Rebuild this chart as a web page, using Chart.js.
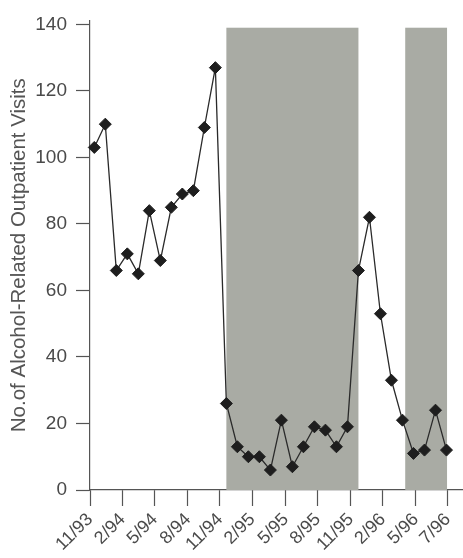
<!DOCTYPE html>
<html>
<head>
<meta charset="utf-8">
<script src="https://cdn.jsdelivr.net/npm/chart.js@4.4.1/dist/chart.umd.min.js"></script>
<style>
  html, body { margin: 0; padding: 0; background: #fff; }
  #wrap { width: 463px; height: 558px; position: relative; }
</style>
</head>
<body>
<div id="wrap"><canvas id="chart"></canvas></div>
<script>
// monthly visits, 11/93 .. 7/96 (month index 0..32)
var months = ['11/93','12/93','1/94','2/94','3/94','4/94','5/94','6/94','7/94','8/94','9/94','10/94',
              '11/94','12/94','1/95','2/95','3/95','4/95','5/95','6/95','7/95','8/95','9/95','10/95',
              '11/95','12/95','1/96','2/96','3/96','4/96','5/96','6/96','7/96'];
var visits = [103, 110, 66, 71, 65, 84, 69, 85, 89, 90, 109, 127,
              26, 13, 10, 10, 6, 21, 7, 13, 19, 18, 13, 19,
              66, 82, 53, 33, 21, 11, 12, 24, 12];

// axis ticks (position in month index units) and their labels
var tickLabels = ['11/93','2/94','5/94','8/94','11/94','2/95','5/95','8/95','11/95','2/96','5/96','7/96'];
var tickPos = [-0.39, 2.57, 5.51, 8.51, 11.42, 14.35, 17.41, 20.32, 23.31, 26.22, 29.21, 32.12];
var yTicks = [0, 20, 40, 60, 80, 100, 120, 140];

// shaded periods (month index start/end) and their height
var shadeStart = [12, 28.25];
var shadeEnd = [24, 32.05];
var shadeTop = 139;

var FONT = '"Liberation Sans", Arial, Helvetica, sans-serif';

var shadePlugin = {
    id: 'shade',
    beforeDatasetsDraw: function (chart) {
        var ctx = chart.ctx, xs = chart.scales.x, ys = chart.scales.y;
        ctx.save();
        ctx.fillStyle = '#a9aba4';
        for (var i = 0; i < shadeStart.length; i++) {
            var x0 = xs.getPixelForValue(shadeStart[i]);
            var x1 = xs.getPixelForValue(shadeEnd[i]);
            var y0 = ys.getPixelForValue(shadeTop);
            var y1 = ys.getPixelForValue(0);
            ctx.fillRect(x0, y0, x1 - x0, y1 - y0);
        }
        ctx.restore();
    }
};

var points = visits.map(function (v, i) { return { x: i, y: v }; });

new Chart(document.getElementById('chart'), {
    type: 'line',
    data: {
        datasets: [{
            label: 'Visits',
            data: points,
            borderColor: '#2a2a2a',
            borderWidth: 1.3,
            pointStyle: 'rectRot',
            pointRadius: 6,
            pointBackgroundColor: '#1e1e1e',
            pointBorderColor: '#1e1e1e',
            pointBorderWidth: 1,
            tension: 0,
            clip: false
        }]
    },
    options: {
        responsive: true,
        maintainAspectRatio: false,
        animation: false,
        layout: { autoPadding: false, padding: { top: 15, right: 0, left: 0, bottom: 0 } },
        plugins: { legend: { display: false }, tooltip: { enabled: false } },
        scales: {
            x: {
                type: 'linear',
                min: -0.39,
                max: 33.5,
                afterBuildTicks: function (scale) {
                    scale.ticks = tickPos.map(function (v) { return { value: v }; });
                },
                afterFit: function (scale) {
                    scale.height = 68;
                    scale.paddingRight = 0;
                },
                border: { color: '#555', width: 1.2 },
                grid: { drawOnChartArea: false, drawTicks: true, tickLength: 16, color: '#555', tickWidth: 1.2 },
                ticks: {
                    autoSkip: false,
                    minRotation: 45,
                    maxRotation: 45,
                    padding: 3,
                    color: '#4a4a4a',
                    font: { family: FONT, size: 18 },
                    callback: function (value, index) { return tickLabels[index]; }
                }
            },
            y: {
                min: 0,
                max: 141.2,
                afterBuildTicks: function (scale) {
                    scale.ticks = yTicks.map(function (v) { return { value: v }; });
                },
                afterFit: function (scale) { scale.width = 90; },
                border: { color: '#555', width: 1.2 },
                grid: { drawOnChartArea: false, drawTicks: true, tickLength: 14, color: '#555', tickWidth: 1.2 },
                ticks: {
                    padding: 9,
                    color: '#4a4a4a',
                    font: { family: FONT, size: 19 }
                },
                title: {
                    display: true,
                    text: 'No.of Alcohol-Related Outpatient Visits',
                    color: '#555',
                    padding: { top: 7, bottom: 0 },
                    font: { family: FONT, size: 20.5 }
                }
            }
        }
    },
    plugins: [shadePlugin]
});
</script>
</body>
</html>
